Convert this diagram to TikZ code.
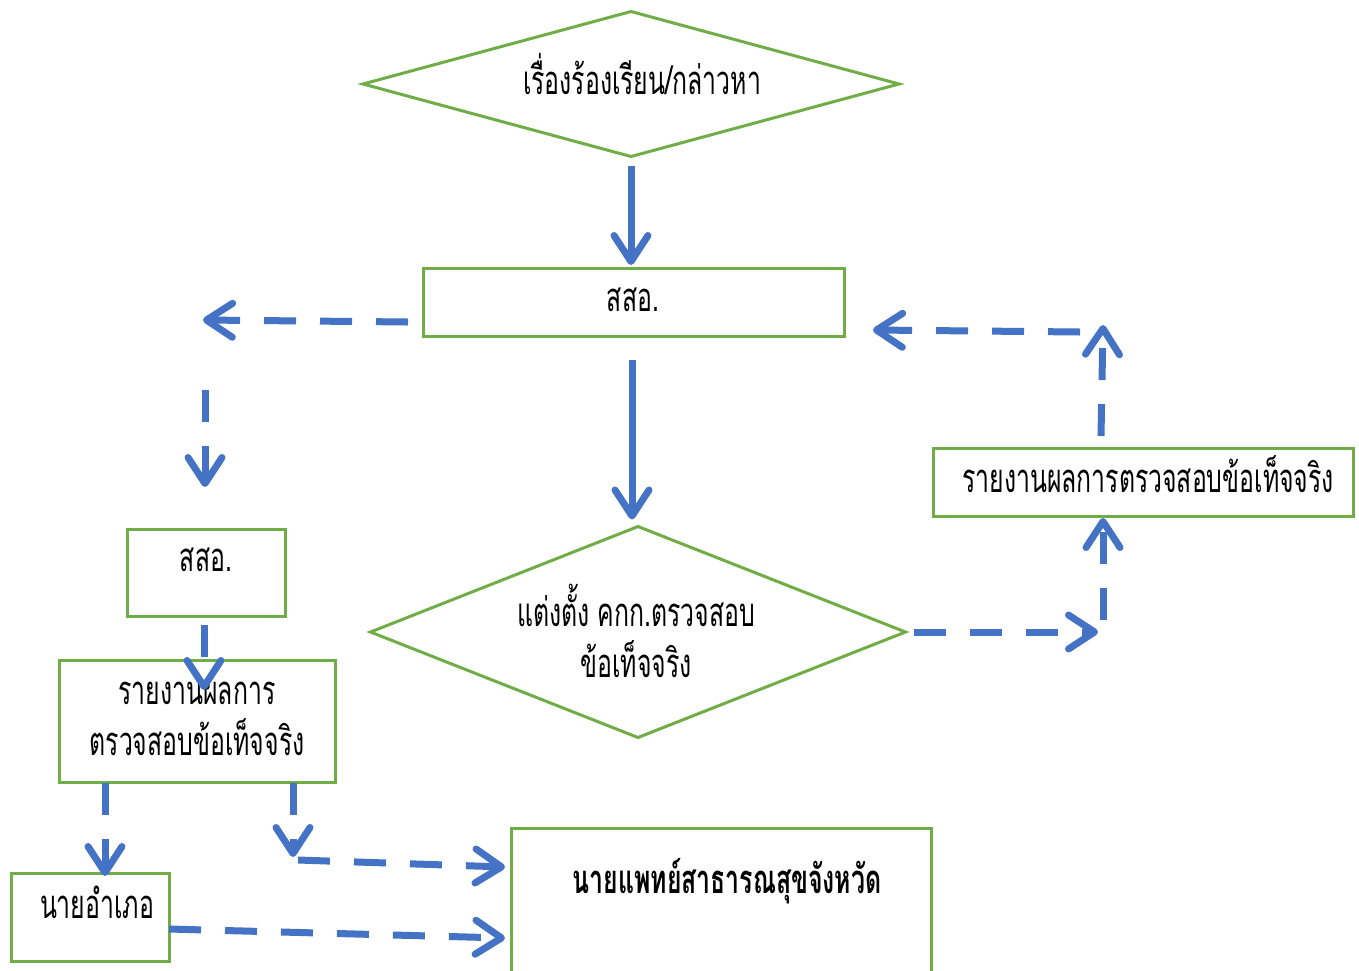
\documentclass[tikz,border=0pt]{standalone}
\usepackage{fontspec}
\newfontfamily\thai[Script=Thai,FakeStretch=0.62]{Loma}
\usetikzlibrary{arrows.meta,shapes.geometric,calc}
\definecolor{bgreen}{RGB}{112,173,71}
\definecolor{bblue}{RGB}{68,114,196}
\begin{document}
\begin{tikzpicture}[x=0.5pt,y=-0.5pt,
  box/.style={draw=bgreen,line width=1.5pt,inner sep=0pt,outer sep=0pt,anchor=north west},
  dia/.style={draw=bgreen,line width=1.5pt,diamond,inner sep=0pt,outer sep=0pt},
  txt/.style={font=\fontsize{20}{25.5}\selectfont\thai,align=center,inner sep=0pt},
  solidarr/.style={draw=bblue,line width=3.5pt,-{Straight Barb[length=13pt,width=17pt,round]}},
  dasharr/.style={solidarr,dash pattern=on 16pt off 12pt}]
\useasboundingbox (0,0) rectangle (1359,970);
% nodes
\node[dia,minimum width=268pt,minimum height=72.5pt] (d1) at (631,84) {};
\node[txt] (t1) at (642,74) {เรื่องร้องเรียน/กล่าวหา};
\node[box,minimum width=210.5pt,minimum height=34pt] (b1) at (423,268) {};
\node[txt] (tb1) at (633,300) {สสอ.};
\node[dia,minimum width=267.5pt,minimum height=105.5pt] (d2) at (638,632) {};
\node[txt] (t2) at (636,631) {แต่งตั้ง คกก.ตรวจสอบ\\ข้อเท็จจริง};
\node[box,minimum width=210pt,minimum height=34pt] (b3) at (933,448) {};
\node[txt] (tb3) at (1148,474) {รายงานผลการตรวจสอบข้อเท็จจริง};
\node[box,minimum width=79pt,minimum height=43.5pt] (b4) at (127,529) {};
\node[txt] (tb4) at (206,560) {สสอ.};
\node[box,minimum width=138pt,minimum height=61pt] (b5) at (59,660) {};
\node[txt] (tb5) at (197,719) {รายงานผลการ\\ตรวจสอบข้อเท็จจริง};
\node[box,minimum width=79pt,minimum height=44pt] (b6) at (11,873) {};
\node[txt] (tb6) at (97,902) {นายอำเภอ};
\node[box,minimum width=210pt,minimum height=90pt] (b7) at (511,828) {};
\node[txt,font=\fontsize{20}{25.5}\selectfont\thai\bfseries] (tb7) at (727,881) {นายแพทย์สาธารณสุขจังหวัด};
% free ends / bends
\coordinate (c1) at (203,320);
\coordinate (c2) at (205,390);
\coordinate (c3) at (1098,632);
\coordinate (c4) at (1103,620);
\coordinate (c5) at (1103,325);
\coordinate (c6) at (1080,332);
\coordinate (c7) at (293,857);
\coordinate (c8) at (298,860);
% connectors
\draw[solidarr] ($(d1.south)+(0,9)$) -- ($(b1.north)+(-2.5,-3)$);
\draw[solidarr] ($(b1.south)+(-1.5,24)$) -- ($(d2.north)+(-6,-7)$);
\draw[dasharr] ($(b1.west)+(-15,20)$) -- (c1);
\draw[dasharr] (c2) -- ($(b4.north)+(-1,-42)$);
\draw[dasharr] ($(b4.south)+(-2,9)$) -- ($(b5.north)+(7,30)$);
\draw[dasharr] ($(b5.south west)+(46,1)$) -- ($(b6.north)+(15,3)$);
\draw[dasharr] ($(b5.south east)+(-42,1)$) -- (c7);
\draw[dasharr] (c8) -- ($(b7.west)+(-6,-51)$);
\draw[dasharr] ($(b6.east)+(0,12)$) -- ($(b7.west)+(-6,20)$);
\draw[dasharr] ($(d2.east)+(8,0)$) -- (c3);
\draw[dasharr] (c4) -- ($(b3.south)+(-40,2)$);
\draw[dasharr] ($(b3.north)+(-42,-12)$) -- (c5);
\draw[dasharr] (c6) -- ($(b1.east)+(29,28)$);
\end{tikzpicture}
\end{document}
